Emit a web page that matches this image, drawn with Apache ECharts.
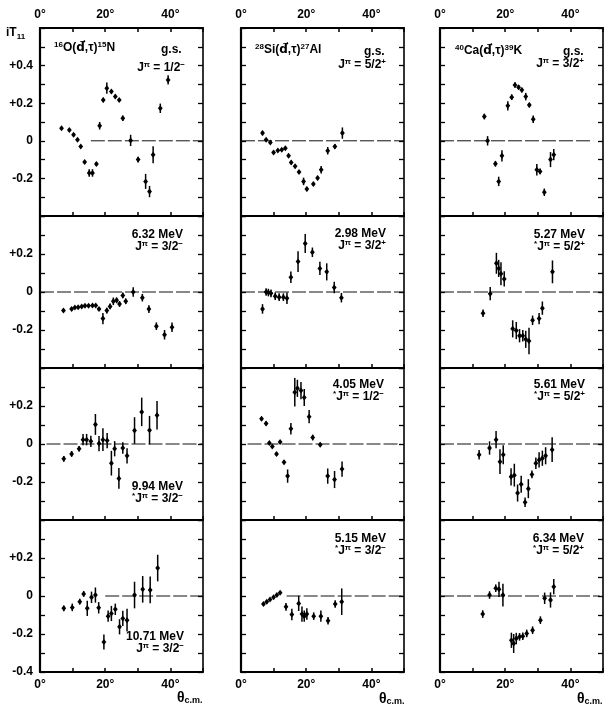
<!DOCTYPE html>
<html>
<head>
<meta charset="utf-8">
<script src="https://cdn.jsdelivr.net/npm/echarts/dist/echarts.min.js"></script>
<style>
  html, body { margin: 0; padding: 0; background: #fff; }
  #chart { width: 607px; height: 707px; }
</style>
</head>
<body>
<div id="chart"></div>
<script>
// Each point: [theta c.m. (deg), iT11, error]
const o16_gs = [[6.6,0.067,0.008],[9.0,0.058,0.008],[10.3,0.032,0.008],[11.5,0.005,0.008],[12.5,-0.03,0.008],[13.7,-0.113,0.01],[15.1,-0.171,0.02],[16.1,-0.171,0.02],[17.3,-0.124,0.01],[18.3,0.08,0.02],[19.4,0.217,0.012],[20.5,0.28,0.03],[21.9,0.262,0.01],[23.1,0.235,0.01],[24.3,0.217,0.01],[25.4,0.12,0.015],[27.8,0.002,0.03],[30.1,-0.10,0.015],[32.4,-0.216,0.04],[33.6,-0.27,0.03],[34.7,-0.074,0.045],[36.9,0.173,0.025],[39.3,0.324,0.025]];
const si28_gs = [[6.6,0.041,0.012],[7.7,0.005,0.008],[9.0,-0.009,0.008],[10.0,-0.062,0.008],[11.3,-0.051,0.008],[12.5,-0.048,0.008],[13.6,-0.039,0.008],[14.6,-0.08,0.008],[15.4,-0.115,0.01],[16.6,-0.136,0.01],[17.8,-0.166,0.01],[19.2,-0.216,0.02],[20.2,-0.256,0.012],[22.2,-0.23,0.01],[23.5,-0.198,0.012],[24.6,-0.154,0.02],[26.6,-0.053,0.02],[28.8,-0.03,0.012],[31.1,0.041,0.03]];
const ca40_gs = [[13.6,0.129,0.015],[14.6,0.0,0.025],[17.0,-0.122,0.015],[18.0,-0.216,0.025],[19.0,-0.08,0.03],[20.8,0.186,0.025],[22.0,0.232,0.015],[23.0,0.297,0.015],[24.1,0.285,0.012],[25.1,0.27,0.012],[26.3,0.235,0.02],[27.4,0.19,0.012],[28.6,0.115,0.02],[29.7,-0.154,0.03],[30.7,-0.163,0.015],[32.0,-0.274,0.02],[33.9,-0.10,0.04],[34.9,-0.074,0.03]];

const o16_632 = [[7.2,-0.098,0.008],[9.7,-0.089,0.006],[10.7,-0.082,0.006],[11.7,-0.08,0.006],[12.8,-0.076,0.006],[13.8,-0.072,0.006],[14.9,-0.072,0.006],[16.1,-0.071,0.006],[17.1,-0.071,0.006],[18.1,-0.09,0.008],[19.3,-0.14,0.03],[20.5,-0.098,0.015],[21.5,-0.076,0.015],[22.5,-0.049,0.02],[23.5,-0.044,0.015],[24.4,-0.063,0.015],[25.4,-0.018,0.015],[26.3,-0.049,0.015],[28.6,0.0,0.025],[31.4,-0.03,0.02],[33.4,-0.09,0.02],[35.7,-0.18,0.02],[38.2,-0.225,0.025],[40.5,-0.185,0.025]];
const si28_298 = [[6.6,-0.089,0.025],[7.7,0.0,0.02],[8.4,-0.003,0.02],[9.2,-0.007,0.02],[10.5,-0.022,0.02],[11.7,-0.027,0.02],[13.0,-0.027,0.02],[14.1,-0.033,0.03],[15.3,0.078,0.03],[17.5,0.16,0.055],[19.7,0.255,0.05],[21.9,0.209,0.025],[24.2,0.124,0.035],[26.3,0.106,0.045],[28.6,0.024,0.03],[30.8,-0.03,0.025]];
const ca40_527 = [[13.2,-0.112,0.02],[15.4,-0.009,0.035],[17.3,0.151,0.055],[18.0,0.124,0.045],[18.7,0.096,0.06],[19.7,0.069,0.04],[22.3,-0.194,0.045],[23.4,-0.203,0.045],[24.4,-0.23,0.035],[25.4,-0.23,0.03],[26.3,-0.249,0.045],[27.3,-0.258,0.07],[28.4,-0.149,0.025],[30.4,-0.14,0.03],[31.4,-0.085,0.035],[34.5,0.106,0.06]];

const o16_994 = [[7.3,-0.078,0.015],[9.7,-0.052,0.015],[12.0,-0.025,0.015],[13.2,0.023,0.03],[14.3,0.023,0.03],[15.6,0.014,0.03],[17.0,0.103,0.055],[18.1,0.002,0.04],[19.3,0.023,0.06],[20.6,0.018,0.04],[21.9,-0.101,0.065],[22.9,-0.025,0.04],[24.2,-0.181,0.055],[25.4,-0.021,0.03],[26.7,-0.062,0.04],[29.0,0.071,0.07],[31.2,0.169,0.075],[33.6,0.073,0.075],[35.9,0.151,0.075]];
const si28_405 = [[6.3,0.133,0.01],[7.7,0.108,0.01],[8.7,0.005,0.008],[9.6,-0.013,0.008],[10.9,-0.053,0.01],[12.0,0.011,0.01],[13.2,-0.096,0.01],[14.3,-0.169,0.035],[15.3,0.08,0.03],[16.5,0.272,0.075],[17.3,0.293,0.045],[18.4,0.281,0.045],[19.4,0.245,0.045],[20.9,0.144,0.035],[22.0,0.034,0.015],[24.3,-0.004,0.01],[26.6,-0.169,0.04],[28.7,-0.187,0.045],[31.0,-0.132,0.04]];
const ca40_561 = [[12.0,-0.057,0.025],[15.2,-0.021,0.035],[17.2,0.023,0.045],[18.4,-0.093,0.065],[19.4,-0.057,0.05],[21.8,-0.173,0.045],[22.8,-0.164,0.06],[23.8,-0.258,0.045],[24.9,-0.212,0.045],[26.1,-0.306,0.025],[27.1,-0.235,0.05],[28.2,-0.16,0.02],[29.4,-0.101,0.03],[30.4,-0.084,0.04],[31.4,-0.075,0.04],[32.4,-0.062,0.045],[34.4,-0.03,0.065]];

const o16_1071 = [[7.3,-0.065,0.015],[9.9,-0.06,0.02],[12.2,-0.03,0.015],[13.4,0.011,0.015],[14.5,-0.065,0.04],[15.8,-0.007,0.03],[17.0,0.005,0.04],[18.0,-0.062,0.03],[19.6,-0.242,0.04],[20.9,-0.106,0.03],[21.9,-0.092,0.04],[23.1,-0.07,0.03],[24.4,-0.162,0.04],[25.4,-0.118,0.04],[26.7,-0.127,0.06],[29.0,0.005,0.07],[31.5,0.035,0.07],[33.8,0.032,0.07],[36.1,0.147,0.07]];
const si28_515 = [[6.9,-0.042,0.008],[7.9,-0.03,0.008],[8.9,-0.018,0.008],[10.0,-0.007,0.008],[11.0,0.005,0.008],[12.0,0.017,0.008],[13.8,-0.057,0.02],[15.6,-0.097,0.03],[17.7,-0.039,0.04],[18.7,-0.095,0.04],[19.4,-0.106,0.03],[20.2,-0.095,0.03],[22.3,-0.106,0.02],[24.5,-0.106,0.03],[26.7,-0.13,0.02],[28.9,-0.042,0.02],[30.9,-0.03,0.07]];
const ca40_634 = [[13.1,-0.095,0.02],[15.2,0.005,0.02],[17.1,0.041,0.02],[18.1,0.035,0.04],[19.3,0.005,0.06],[21.9,-0.233,0.04],[22.6,-0.25,0.05],[23.4,-0.224,0.03],[24.4,-0.215,0.02],[25.4,-0.212,0.02],[26.6,-0.197,0.02],[28.4,-0.18,0.02],[30.8,-0.127,0.02],[32.1,-0.012,0.03],[33.9,-0.021,0.04],[34.9,0.049,0.04]];

// Axis tick labels
const X_LABEL_VALUES = [0, 20, 40];
const Y_LABELS_TOP = [-0.2, 0, 0.2, 0.4];
const Y_LABELS_MID = [-0.2, 0, 0.2];
const Y_LABELS_BOTTOM = [-0.4, -0.2, 0, 0.2];

const FONT = "'Liberation Sans',Arial,Helvetica,sans-serif";
const FONT_SYM = "'DejaVu Sans',sans-serif";

// panel layout
const COL_LEFT = [40, 241, 440];
const COL_W = 163;
const ROW_TOP = [28, 216, 368, 520];
const ROW_H = [188, 152, 152, 152];
const ROW_MIN = [-0.4, -0.4, -0.4, -0.4];
const ROW_MAX = [0.6, 0.4, 0.4, 0.4];

const panels = [
  { row: 0, col: 0, data: o16_gs,   zero: [15.6, 50] },
  { row: 0, col: 1, data: si28_gs,  zero: [0, 50] },
  { row: 0, col: 2, data: ca40_gs,  zero: [0, 47] },
  { row: 1, col: 0, data: o16_632,  zero: [0, 50] },
  { row: 1, col: 1, data: si28_298, zero: [0, 50] },
  { row: 1, col: 2, data: ca40_527, zero: [0, 50] },
  { row: 2, col: 0, data: o16_994,  zero: [2, 50] },
  { row: 2, col: 1, data: si28_405, zero: [2, 49] },
  { row: 2, col: 2, data: ca40_561, zero: [0, 50] },
  { row: 3, col: 0, data: o16_1071, zero: [20, 50] },
  { row: 3, col: 1, data: si28_515, zero: [14, 50] },
  { row: 3, col: 2, data: ca40_634, zero: [0, 49] }
];

function yFormatter(list) {
  return function (v) {
    const r = Math.round(v * 10) / 10;
    if (!list.some(t => Math.abs(t - r) < 1e-6)) return '';
    if (Math.abs(r) < 1e-6) return '0';
    return (r > 0 ? '+' : '-') + Math.abs(r).toFixed(1);
  };
}
function xFormatter(v) {
  return X_LABEL_VALUES.indexOf(Math.round(v)) >= 0 ? Math.round(v) + '°' : '';
}

function renderPoint(params, api) {
  const x = api.value(0), y = api.value(1), e = api.value(2);
  const c = api.coord([x, y]);
  const hi = api.coord([x, y + e]);
  const lo = api.coord([x, y - e]);
  return {
    type: 'group',
    children: [
      { type: 'line', shape: { x1: c[0], y1: hi[1], x2: c[0], y2: lo[1] },
        style: { stroke: '#000', lineWidth: 1.5 } },
      { type: 'polygon', shape: { points: [[c[0], c[1] - 3], [c[0] + 2.4, c[1]], [c[0], c[1] + 3], [c[0] - 2.4, c[1]]] },
        style: { fill: '#000' } }
    ]
  };
}

const labelStyle = { fontFamily: FONT, fontSize: 12, fontWeight: 'bold', color: '#000' };

const grid = [], xAxis = [], yAxis = [], series = [];
panels.forEach((p, i) => {
  grid.push({ left: COL_LEFT[p.col], top: ROW_TOP[p.row], width: COL_W, height: ROW_H[p.row] });
  const xBase = {
    gridIndex: i, type: 'value', min: 0, max: 50, interval: 10,
    axisLine: { onZero: false, lineStyle: { color: '#000', width: 2 } },
    axisTick: { inside: true, length: 4, lineStyle: { color: '#000', width: 1.5 } },
    splitLine: { show: false }
  };
  const xi = xAxis.length;
  xAxis.push(Object.assign({}, xBase, {
    position: 'bottom',
    axisLabel: Object.assign({ show: p.row === 3, margin: 7, formatter: xFormatter, showMinLabel: true }, labelStyle)
  }));
  if (p.row === 0) {
    xAxis.push(Object.assign({}, xBase, {
      position: 'top',
      axisLabel: Object.assign({ show: true, margin: 7, formatter: xFormatter, showMinLabel: true }, labelStyle)
    }));
  }
  const list = p.row === 0 ? Y_LABELS_TOP : (p.row === 3 ? Y_LABELS_BOTTOM : Y_LABELS_MID);
  const yBase = {
    gridIndex: i, type: 'value', min: ROW_MIN[p.row], max: ROW_MAX[p.row], interval: 0.1,
    axisTick: { inside: true, length: 5, lineStyle: { color: '#000', width: 1.3 } },
    splitLine: { show: false }
  };
  const yi = yAxis.length;
  yAxis.push(Object.assign({}, yBase, {
    position: 'left',
    axisLine: { show: true, onZero: false, lineStyle: { color: '#000', width: 2.2 } },
    axisLabel: Object.assign({ show: p.col === 0, margin: 7, formatter: yFormatter(list),
      showMinLabel: true, showMaxLabel: true }, labelStyle)
  }));
  yAxis.push(Object.assign({}, yBase, {
    position: 'right',
    axisLine: { show: true, onZero: false, lineStyle: { color: '#000', width: 1.6 } },
    axisLabel: { show: false }
  }));
  series.push({
    type: 'line', xAxisIndex: xi, yAxisIndex: yi, silent: true, z: 1,
    data: [[p.zero[0], 0], [p.zero[1], 0]], symbol: 'none', animation: false,
    lineStyle: { color: '#111', width: 1, type: [14, 3] }
  });
  series.push({
    type: 'custom', xAxisIndex: xi, yAxisIndex: yi, z: 3, animation: false,
    data: p.data, encode: { x: 0, y: 1 }, renderItem: renderPoint
  });
});

// annotation text
const RICH = {
  n: { fontFamily: FONT, fontSize: 12, fontWeight: 'bold', lineHeight: 15, fill: '#000' },
  d: { fontFamily: FONT_SYM, fontSize: 12, fontWeight: 'bold', lineHeight: 15, fill: '#000' },
  s: { fontFamily: FONT, fontSize: 8, fontWeight: 'bold', lineHeight: 6, verticalAlign: 'top', fill: '#000' },
  b: { fontFamily: FONT, fontSize: 8, fontWeight: 'bold', lineHeight: 6, verticalAlign: 'bottom', fill: '#000' },
  t: { fontFamily: FONT, fontSize: 14, fontWeight: 'bold', lineHeight: 15, fill: '#000' },
  bt: { fontFamily: FONT, fontSize: 9, fontWeight: 'bold', lineHeight: 6, verticalAlign: 'bottom', fill: '#000' }
};
function txt(x, y, text, align) {
  return { type: 'text', x: x, y: y, z: 10,
    style: { text: text, rich: RICH, align: align || 'left', verticalAlign: 'middle', fill: '#000' } };
}
const Jp = (spin, parity, star) => (star ? '{s|*}' : '') + '{n|J}{s|π}{n| = ' + spin + '}{s|' + parity + '}';
const reaction = (aIn, tgt, aOut, res) =>
  '{s|' + aIn + '}{n|' + tgt + '(}{d|d\u20D7}{n|,τ)}{s|' + aOut + '}{n|' + res + '}';

const graphic = [
  txt(6, 33, '{n|iT}{b|11}'),
  // reactions and ground states
  txt(54, 48, reaction('16', 'O', '15', 'N')),
  txt(161, 50, '{n|g.s.}'),
  txt(185, 68, Jp('1/2', '−'), 'right'),
  txt(255, 50, reaction('28', 'Si', '27', 'Al')),
  txt(364, 52, '{n|g.s.}'),
  txt(386, 65, Jp('5/2', '+'), 'right'),
  txt(455, 51, reaction('40', 'Ca', '39', 'K')),
  txt(563, 52, '{n|g.s.}'),
  txt(584, 64, Jp('3/2', '+'), 'right'),
  // excited states
  txt(183, 235, '{n|6.32 MeV}', 'right'),
  txt(183, 247, Jp('3/2', '−'), 'right'),
  txt(386, 234, '{n|2.98 MeV}', 'right'),
  txt(386, 246, Jp('3/2', '+'), 'right'),
  txt(585, 235, '{n|5.27 MeV}', 'right'),
  txt(585, 247, Jp('5/2', '+', true), 'right'),
  txt(183, 487, '{n|9.94 MeV}', 'right'),
  txt(183, 499, Jp('3/2', '−', true), 'right'),
  txt(384, 385, '{n|4.05 MeV}', 'right'),
  txt(384, 397, Jp('1/2', '−', true), 'right'),
  txt(585, 385, '{n|5.61 MeV}', 'right'),
  txt(585, 397, Jp('5/2', '+', true), 'right'),
  txt(184, 637, '{n|10.71 MeV}', 'right'),
  txt(184, 649, Jp('3/2', '−'), 'right'),
  txt(386, 539, '{n|5.15 MeV}', 'right'),
  txt(386, 551, Jp('3/2', '−', true), 'right'),
  txt(584, 539, '{n|6.34 MeV}', 'right'),
  txt(584, 551, Jp('5/2', '+', true), 'right'),
  // angle axis titles
  txt(177, 698, '{t|θ}{bt|c.m.}'),
  txt(379, 699, '{t|θ}{bt|c.m.}'),
  txt(577, 699, '{t|θ}{bt|c.m.}')
];

const chart = echarts.init(document.getElementById('chart'), null, { renderer: 'canvas' });
chart.setOption({
  backgroundColor: '#fff',
  animation: false,
  grid: grid,
  xAxis: xAxis,
  yAxis: yAxis,
  series: series,
  graphic: graphic
});
</script>
</body>
</html>
